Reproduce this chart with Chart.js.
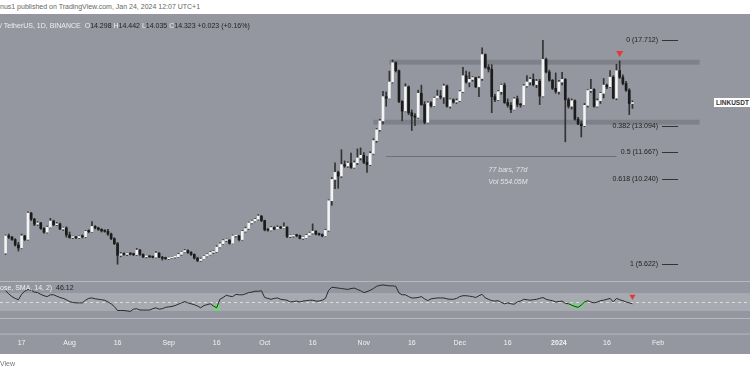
<!DOCTYPE html>
<html>
<head>
<meta charset="utf-8">
<script src="https://cdn.jsdelivr.net/npm/chart.js@4.4.0/dist/chart.umd.min.js"></script>
<style>
  body { margin: 0; background: #fff; width: 750px; height: 375px; overflow: hidden; font-family: "Liberation Sans", Arial, sans-serif; }
  #wrap { position: relative; width: 750px; height: 375px; }
  .pane { position: absolute; left: 0; width: 750px; background: #9497a0; }
  canvas { position: absolute; left: 0; }
  .txt { position: absolute; white-space: nowrap; font-size: 7px; line-height: 9px; }
  .v { color: #222; }
  .sym { position: absolute; left: 714px; top: 98px; height: 9px; padding: 0 2px; background: #fff; color: #333; font-size: 6.5px; line-height: 9px; font-weight: bold; }
</style>
</head>
<body>
<div id="wrap">
  <div class="txt" style="left:0;top:2px;color:#666">nus1 published on TradingView.com, Jan 24, 2024 12:07 UTC+1</div>
  <div class="pane" style="top:14px;height:340px"></div>
  <canvas id="priceChart" width="750" height="263" style="top:14px"></canvas>
  <canvas id="rsiChart" width="750" height="77" style="top:277px"></canvas>
  <div class="txt" style="left:0;top:21px;color:#eee">/ TetherUS, 1D, BINANCE&nbsp; O<span class="v">14.298</span> H<span class="v">14.442</span> L<span class="v">14.035</span> C<span class="v">14.323</span> <span class="v">+0.023 (+0.16%)</span></div>
  <div class="txt" style="left:0;top:283px;color:#eee">ose, SMA, 14, 2)&nbsp; <span class="v">46.12</span></div>
  <div class="sym">LINKUSDT</div>
  <div class="txt" style="left:0;top:359px;color:#777">View</div>
</div>
<script>
// LINK/USDT daily, Jul 12 2023 -> Jan 24 2024
const opens = [
  6.22,7.15,7.08,6.95,6.66,6.50,7.15,6.96,8.38,8.05,
  7.78,7.85,7.55,7.35,7.62,7.95,7.75,7.80,7.52,7.58,
  7.20,7.06,7.08,7.05,7.12,7.10,7.40,7.38,7.66,7.58,
  7.50,7.42,7.40,7.25,7.00,6.73,6.10,6.18,6.15,6.18,
  6.16,6.14,6.38,6.15,6.02,6.04,6.02,6.00,6.22,6.00,
  5.94,5.92,5.96,6.00,6.02,6.15,6.28,6.36,6.25,6.15,
  5.95,5.82,5.90,6.06,6.15,6.26,6.30,6.55,6.72,6.90,
  6.92,6.75,7.15,7.15,6.95,7.40,7.55,7.85,7.95,8.05,
  8.22,7.98,7.48,7.46,7.60,7.52,7.62,7.58,7.62,7.12,
  7.14,7.18,7.16,7.02,7.04,7.18,7.30,7.40,7.25,7.22,
  7.15,7.45,9.05,10.20,10.58,10.38,11.00,10.92,11.08,10.85,
  11.10,11.36,11.50,11.12,11.00,11.60,12.30,12.88,13.36,14.67,
  14.58,15.46,16.50,16.07,14.41,13.89,15.20,13.80,13.63,13.55,
  14.85,14.24,13.28,14.33,14.18,14.59,14.70,14.65,15.25,14.15,
  14.50,14.38,14.45,14.94,15.80,15.46,15.60,15.70,15.20,15.65,
  16.94,16.25,16.15,14.67,14.50,14.94,15.29,14.35,14.20,13.98,
  14.55,14.25,14.22,15.25,15.46,15.60,15.32,15.50,14.70,16.68,
  16.00,15.55,15.12,14.95,15.46,15.60,14.50,14.15,14.45,13.45,
  13.19,13.10,14.20,15.00,15.05,14.15,14.45,14.85,15.29,15.20,
  15.72,14.59,16.07,15.72,15.38,15.02,14.298
];
const highs = [
  7.20,7.25,7.12,7.00,6.80,7.25,7.18,8.45,8.42,8.10,
  7.92,7.88,7.60,7.68,8.10,8.00,7.88,7.84,7.62,7.64,
  7.36,7.14,7.12,7.15,7.20,7.45,7.48,7.92,7.70,7.62,
  7.54,7.48,7.50,7.30,7.05,6.80,6.25,6.24,6.22,6.25,
  6.22,6.48,6.42,6.18,6.08,6.08,6.06,6.30,6.25,6.04,
  6.00,6.00,6.04,6.06,6.20,6.32,6.42,6.40,6.30,6.18,
  6.00,5.96,6.10,6.18,6.30,6.35,6.62,6.78,6.95,6.98,
  6.95,7.20,7.22,7.18,7.45,7.62,7.90,8.00,8.10,8.30,
  8.25,8.00,7.55,7.65,7.64,7.70,7.66,7.85,7.65,7.20,
  7.22,7.24,7.20,7.08,7.22,7.35,7.80,7.44,7.30,7.26,
  7.50,9.10,10.30,11.10,10.65,11.80,11.20,11.15,11.62,11.20,
  11.85,11.90,11.65,11.45,11.70,12.40,12.95,13.45,14.95,14.92,
  16.05,16.65,16.55,16.10,14.45,15.37,15.25,13.95,13.75,15.02,
  15.29,14.40,14.40,14.40,14.65,15.02,15.00,15.35,15.30,14.55,
  14.55,14.55,15.00,16.25,16.05,16.00,15.75,15.72,15.75,17.30,
  16.98,16.40,16.40,14.80,15.00,15.35,15.40,14.55,14.35,14.62,
  14.70,14.30,15.32,15.81,15.70,15.90,15.60,15.60,17.71,16.75,
  16.10,15.60,15.95,15.55,15.98,15.65,14.60,14.55,14.50,13.55,
  13.35,14.30,15.05,15.60,15.10,14.55,14.90,15.65,15.35,16.07,
  15.80,16.42,16.60,15.85,15.50,15.10,14.442
];
const lows = [
  6.15,7.00,6.90,6.60,6.33,6.45,6.90,6.92,7.98,7.70,
  7.72,7.50,7.30,7.30,7.58,7.70,7.70,7.48,7.45,7.08,
  7.02,7.00,7.00,7.00,7.04,7.05,7.32,7.35,7.52,7.45,
  7.36,7.35,7.18,6.95,6.68,5.62,6.02,6.10,6.08,6.12,
  6.08,6.10,6.10,5.98,5.96,5.98,5.96,5.96,5.98,5.84,
  5.88,5.88,5.92,5.95,5.98,6.10,6.24,6.20,6.10,5.90,
  5.76,5.78,5.86,6.02,6.12,6.20,6.26,6.50,6.68,6.85,
  6.70,6.72,7.08,6.88,6.92,7.35,7.50,7.80,7.90,8.00,
  7.92,7.42,7.40,7.42,7.48,7.50,7.54,7.55,7.05,7.06,
  7.08,7.10,6.98,6.96,7.00,7.14,7.25,7.20,7.18,7.10,
  7.12,7.40,8.80,9.70,9.72,10.30,10.85,10.85,10.80,10.80,
  11.00,11.25,11.05,10.58,10.95,11.55,12.20,12.80,13.20,14.15,
  14.55,15.40,16.00,14.35,13.36,13.85,13.70,12.84,13.10,13.50,
  14.20,13.20,13.25,14.10,14.15,14.55,14.55,14.30,14.10,14.05,
  14.32,14.30,14.40,14.90,15.40,15.20,15.50,15.15,14.67,15.55,
  16.20,16.00,13.80,14.40,14.45,14.80,14.30,14.10,13.80,13.95,
  14.12,14.10,14.18,15.18,15.30,15.25,15.15,14.24,14.65,15.95,
  15.50,15.05,14.85,14.80,15.30,12.23,14.05,14.00,13.40,13.15,
  12.49,13.05,14.10,14.90,14.10,14.10,14.30,14.60,15.10,15.15,
  14.55,14.50,15.65,15.30,14.95,13.70,14.035
];
const closes = [
  7.15,7.08,6.95,6.66,6.50,7.15,6.96,8.38,8.05,7.78,
  7.85,7.55,7.35,7.62,7.95,7.75,7.80,7.52,7.58,7.20,
  7.06,7.08,7.05,7.12,7.10,7.40,7.38,7.66,7.58,7.50,
  7.42,7.40,7.25,7.00,6.73,6.10,6.18,6.15,6.18,6.16,
  6.14,6.38,6.15,6.02,6.04,6.02,6.00,6.22,6.00,5.94,
  5.92,5.96,6.00,6.02,6.15,6.28,6.36,6.25,6.15,5.95,
  5.82,5.90,6.06,6.15,6.26,6.30,6.55,6.72,6.90,6.92,
  6.75,7.15,7.15,6.95,7.40,7.55,7.85,7.95,8.05,8.22,
  7.98,7.48,7.46,7.60,7.52,7.62,7.58,7.62,7.12,7.14,
  7.18,7.16,7.02,7.04,7.18,7.30,7.40,7.25,7.22,7.15,
  7.45,9.05,10.20,10.58,10.38,11.00,10.92,11.08,10.85,11.10,
  11.36,11.50,11.12,11.00,11.60,12.30,12.88,13.36,14.67,14.58,
  15.46,16.50,16.07,14.41,13.89,15.20,13.80,13.63,13.55,14.85,
  14.24,13.28,14.33,14.18,14.59,14.70,14.65,15.25,14.15,14.50,
  14.38,14.45,14.94,15.80,15.46,15.60,15.70,15.20,15.65,16.94,
  16.25,16.15,14.67,14.50,14.94,15.29,14.35,14.20,13.98,14.55,
  14.25,14.22,15.25,15.46,15.60,15.32,15.50,14.70,16.68,16.00,
  15.55,15.12,14.95,15.46,15.60,14.50,14.15,14.45,13.45,13.19,
  13.10,14.20,15.00,15.05,14.15,14.45,14.85,15.29,15.20,15.72,
  14.59,16.07,15.72,15.38,15.02,14.30,14.323
];
const rsi = [
  75,68,62,58,55,67,74,78,76,72,
  71,67,64,62,66,66,63,60,58,55,
  51,49,48,48,48,54,58,59,57,56,
  55,54,50,46,40,31,31,31,30,29,
  34,35,32,32,32,32,35,37,34,35,
  38,39,40,42,45,48,51,48,46,44,
  41,37,42,44,46,41,37,56,60,65,
  63,62,67,66,66,68,71,72,74,74,
  75,60,58,56,58,59,56,55,54,50,
  51,52,50,52,53,54,54,52,52,54,
  58,76,83,82,81,80,79,78,80,81,
  78,75,71,73,76,80,85,87,88,87,
  86,86,85,70,66,66,62,59,59,60,
  62,57,53,57,58,59,59,59,57,56,
  56,58,62,64,64,63,62,60,64,67,
  59,56,53,52,53,49,46,48,46,45,
  50,52,56,55,54,55,56,58,60,56,
  54,53,50,51,52,47,46,43,40,38,
  43,50,53,50,48,50,53,54,56,58,
  50,58,55,53,50,48,46.12
];

// fib retracement levels
const fibRatios = [0, 0.382, 0.5, 0.618, 1];
const fibPrices = [17.712, 13.094, 11.667, 10.240, 5.622];

// rectangles: [fromDay, toDay, low, high]
const rangeBoxes = [[120, 217, 16.40, 16.66], [115, 217, 13.16, 13.42]];
// date range tool
const measureDays = [119, 191];
const measurePrice = 11.48;
const measureText = ['77 bars, 77d', 'Vol 554.05M'];
const measureTextPrices = [10.70, 10.07];

// signal markers
const sellMarkDay = 192, sellMarkPrice = 17.03;
const rsiSellDay = 196, rsiSellValue = 62;
const rsiBuyDay = 66, rsiBuyValue = 37.5;
const rsiGreenDays = [176, 181];

const tickText = {
  '2023-07-17': '17', '2023-08-01': 'Aug', '2023-08-16': '16', '2023-09-01': 'Sep',
  '2023-09-16': '16', '2023-10-01': 'Oct', '2023-10-16': '16', '2023-11-01': 'Nov',
  '2023-11-16': '16', '2023-12-01': 'Dec', '2023-12-16': '16', '2024-01-01': '2024',
  '2024-01-16': '16', '2024-02-01': 'Feb'
};

const DAYS = 232;
const dayLabels = [];
for (let k = 0; k < DAYS; k++) {
  const d = new Date(2023, 6, 12 + k);
  const m = String(d.getMonth() + 1).padStart(2, '0');
  const dd = String(d.getDate()).padStart(2, '0');
  dayLabels.push(d.getFullYear() + '-' + m + '-' + dd);
}

function onlyAt(day, value) {
  return dayLabels.map((_, i) => i === day ? value : null);
}

const font = '"Liberation Sans", Arial, sans-serif';

const priceOverlay = {
  id: 'priceOverlay',
  beforeDatasetsDraw(chart) {
    const { ctx, scales: { x, y } } = chart;
    ctx.save();
    ctx.fillStyle = 'rgba(100,103,111,0.45)';
    rangeBoxes.forEach(b => {
      const x0 = x.getPixelForValue(b[0]), x1 = x.getPixelForValue(b[1]);
      const y0 = y.getPixelForValue(b[3]), y1 = y.getPixelForValue(b[2]);
      ctx.fillRect(x0, y0, x1 - x0, y1 - y0);
    });
    ctx.restore();
  },
  afterDatasetsDraw(chart) {
    const { ctx, scales: { x, y } } = chart;
    ctx.save();
    // date range line
    const my = Math.round(y.getPixelForValue(measurePrice)) + 0.5;
    ctx.strokeStyle = '#6d7078';
    ctx.lineWidth = 1;
    ctx.beginPath();
    ctx.moveTo(x.getPixelForValue(measureDays[0]), my);
    ctx.lineTo(x.getPixelForValue(measureDays[1]), my);
    ctx.stroke();
    ctx.font = 'italic 7px ' + font;
    ctx.fillStyle = '#e4e5e8';
    ctx.textBaseline = 'middle';
    measureText.forEach((t, k) => {
      ctx.fillText(t, x.getPixelForValue(151), y.getPixelForValue(measureTextPrices[k]));
    });
    // fib labels
    const lx = x.getPixelForValue(204);
    ctx.font = '7px ' + font;
    ctx.fillStyle = '#222';
    ctx.textAlign = 'right';
    ctx.strokeStyle = '#333';
    fibRatios.forEach((r, k) => {
      const fy = y.getPixelForValue(fibPrices[k]);
      ctx.fillText(r + ' (' + fibPrices[k].toFixed(3) + ')', lx, fy);
      ctx.beginPath();
      ctx.moveTo(lx + 4, Math.round(fy) + 0.5);
      ctx.lineTo(lx + 20, Math.round(fy) + 0.5);
      ctx.stroke();
    });
    ctx.restore();
  }
};

new Chart(document.getElementById('priceChart'), {
  type: 'bar',
  data: {
    labels: dayLabels,
    datasets: [
      {
        label: 'wick',
        data: lows.map((l, i) => [l, highs[i]]),
        backgroundColor: '#333',
        barThickness: 1,
        grouped: false,
        order: 2
      },
      {
        label: 'body',
        data: opens.map((o, i) => [o, closes[i]]),
        backgroundColor: opens.map((o, i) => closes[i] >= o ? '#f4f4f4' : '#1b1b1b'),
        barThickness: 2,
        minBarLength: 1,
        grouped: false,
        order: 1
      },
      {
        type: 'line',
        label: 'sell',
        data: onlyAt(sellMarkDay, sellMarkPrice),
        showLine: false,
        pointStyle: 'triangle',
        rotation: 180,
        pointRadius: 4,
        pointBackgroundColor: '#e53935',
        pointBorderWidth: 0,
        order: 0
      }
    ]
  },
  options: {
    responsive: false,
    animation: false,
    layout: { padding: { left: 0, right: 4, top: 0, bottom: 0 } },
    plugins: { legend: { display: false }, tooltip: { enabled: false } },
    scales: {
      x: { display: false, offset: true },
      y: { display: false, min: 5.146, max: 18.916 }
    }
  },
  plugins: [priceOverlay]
});

const rsiBands = {
  id: 'rsiBands',
  beforeDatasetsDraw(chart) {
    const { ctx, chartArea: a, scales: { y } } = chart;
    ctx.save();
    ctx.fillStyle = '#a8aab2';
    const y70 = y.getPixelForValue(70), y30 = y.getPixelForValue(30);
    ctx.fillRect(0, y70, chart.width, y30 - y70);
    ctx.strokeStyle = '#dcdde1';
    ctx.setLineDash([3, 3]);
    const y50 = Math.round(y.getPixelForValue(50)) + 0.5;
    ctx.beginPath(); ctx.moveTo(0, y50); ctx.lineTo(chart.width, y50); ctx.stroke();
    ctx.setLineDash([]);
    ctx.strokeStyle = '#b6b8bf';
    [a.top + 0.5, Math.round(y.getPixelForValue(14)) + 0.5, a.bottom + 0.5].forEach(ly => {
      ctx.beginPath(); ctx.moveTo(0, ly); ctx.lineTo(chart.width, ly); ctx.stroke();
    });
    ctx.restore();
  }
};

new Chart(document.getElementById('rsiChart'), {
  type: 'line',
  data: {
    labels: dayLabels,
    datasets: [
      { label: 'RSI', data: rsi, borderColor: '#2a2a2a', borderWidth: 1, pointRadius: 0, order: 1 },
      {
        label: 'div',
        data: rsi.map((v, i) => i >= rsiGreenDays[0] && i <= rsiGreenDays[1] ? v : null),
        borderColor: 'rgba(110,220,110,0.8)', borderWidth: 4, pointRadius: 0, order: 2
      },
      {
        label: 'buy', data: onlyAt(rsiBuyDay, rsiBuyValue), showLine: false,
        pointRadius: 3.5, pointBackgroundColor: 'rgba(110,220,110,0.9)', pointBorderWidth: 0, order: 3
      },
      {
        label: 'sell', data: onlyAt(rsiSellDay, rsiSellValue), showLine: false,
        pointStyle: 'triangle', rotation: 180, pointRadius: 3.5,
        pointBackgroundColor: '#e53935', pointBorderWidth: 0, order: 0
      }
    ]
  },
  options: {
    responsive: false,
    animation: false,
    layout: { padding: { left: 0, right: 4, top: 0, bottom: 2 } },
    plugins: { legend: { display: false }, tooltip: { enabled: false } },
    scales: {
      x: {
        offset: true,
        grid: { display: false, drawTicks: false },
        border: { display: false },
        ticks: {
          autoSkip: false,
          maxRotation: 0,
          padding: 5,
          color: '#f2f2f2',
          font: ctx => ({ size: 7, family: font, weight: ctx.tick && ctx.tick.label === '2024' ? 'bold' : 'normal' }),
          callback: (v, i) => tickText[dayLabels[i]] || null
        }
      },
      y: { display: false, min: -20.5, max: 96.8 }
    }
  },
  plugins: [rsiBands]
});
</script>
</body>
</html>
